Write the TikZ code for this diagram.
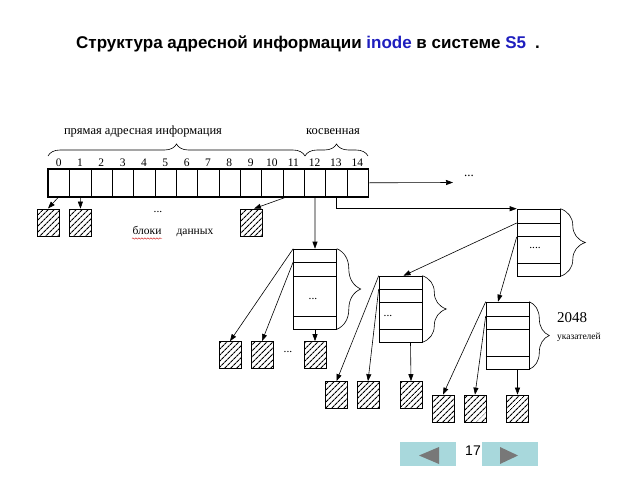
\documentclass[tikz,border=0pt]{standalone}
\usepackage{fontspec}
\setmainfont{Liberation Serif}
\newfontfamily\titlefont{Liberation Sans}
\usetikzlibrary{arrows.meta,decorations.pathreplacing,decorations.pathmorphing,patterns.meta,calc}
\definecolor{tblue}{RGB}{30,30,190}
\definecolor{btnfill}{RGB}{168,216,220}
\definecolor{btntri}{RGB}{120,120,120}
\tikzset{
  cell/.style={draw, line width=0.6pt, minimum width=21.333pt, minimum height=27pt, inner sep=0pt, anchor=north west},
  hatchbox/.style={draw, line width=0.7pt, minimum width=22pt, minimum height=27pt, inner sep=0pt,
     pattern={Lines[angle=45,distance=4pt,line width=1.1pt]}},
  ibox/.style={draw, line width=0.6pt, minimum width=43pt, inner sep=0pt},
  arr/.style={-{Triangle[length=7pt,width=5pt]}, line width=0.6pt},
  thin/.style={line width=0.6pt},
  lbl/.style={inner sep=0pt, font=\fontsize{11.5}{13}\selectfont},
  biglbl/.style={inner sep=0pt, font=\fontsize{12.5}{14}\selectfont},
  bracedeco/.style={decorate, line width=0.6pt, decoration={brace, amplitude=#1}},
  btn/.style={fill=btnfill, draw=none, minimum width=56pt, minimum height=24pt, inner sep=0pt},
}
\begin{document}
\begin{tikzpicture}[x=1pt, y=-1pt]
\useasboundingbox (0,0) rectangle (640,480);

% title
\node[inner sep=0pt, anchor=west, font=\titlefont\bfseries\fontsize{17}{20}\selectfont] (title) at (76,44)
  {Структура адресной информации \textcolor{tblue}{inode} в системе \textcolor{tblue}{S5}\hspace{9pt}.};

% main array
\foreach \i in {0,...,14} {
  \node[cell] (c\i) at ({48+\i*21.333},169) {};
  \node[lbl, anchor=base] (n\i) at ({48+(\i+0.5)*21.333},166) {\i};
}
\draw[line width=1.8pt] (c0.north west) rectangle (c14.south east);

% top braces
\draw[bracedeco=12pt] (48,156) -- (305,156);
\draw[bracedeco=12pt] (305,156) -- (368,156);
\node[biglbl, anchor=base] (lbdirect) at (143,134) {прямая адресная информация};
\node[biglbl, anchor=base] (lbind) at (333,134) {косвенная};

% arrow to the right
\coordinate (rt) at (453,182.5);
\draw[arr] (c14.east) -- (rt);
\node[inner sep=0pt, font=\fontsize{13}{14}\selectfont] (rdots) at (469,176) {...};

% first-level data blocks
\node[hatchbox] (d0) at (48,222.5) {};
\node[hatchbox] (d1) at (80.5,222.5) {};
\node[hatchbox] (d11) at (251,222.5) {};
\draw[arr] (c0.south) -- (d0.north);
\draw[arr] (c1.south) -- (d1.north);
\draw[arr] ([xshift=-6pt]c11.south) -- ([xshift=3pt]d11.north);
\node[lbl] (ddots) at (158,212) {...};
\node[lbl, anchor=base] (bl) at (147,234) {блоки};
\node[lbl, anchor=base] (dn) at (195,234) {данных};
\draw[red!80!black, line width=0.4pt, decorate, decoration={snake, amplitude=0.7pt, segment length=3pt}] (132,238.5) -- (162,238.5);

% single indirect box
\node[ibox, minimum height=80pt] (S) at (315,289) {};
\foreach \yy in {262,276,316} \draw[thin] (S.west |- 0,\yy) -- (S.east |- 0,\yy);
\node[lbl] (sdots) at (313,299) {...};
\draw[bracedeco=24pt] (S.north east) -- (S.south east);
\draw[arr] (c12.south) -- (S.north);

\node[hatchbox] (s1) at (230,355) {};
\node[hatchbox] (s2) at (262,355) {};
\node[hatchbox] (s3) at (315,355) {};
\draw[arr] (S.north west) -- (s1.north);
\draw[arr] (S.west |- 0,262) -- (s2.north);
\draw[arr] (S.south) -- (s3.north);
\node[lbl] (sbdots) at (288,352) {...};

% double indirect box
\node[ibox, minimum height=67pt] (D) at (538.5,242.5) {};
\foreach \yy in {223,236,263} \draw[thin] (D.west |- 0,\yy) -- (D.east |- 0,\yy);
\node[lbl] (ddots2) at (535,248) {....};
\draw[bracedeco=25pt] (D.north east) -- (D.south east);
\draw[arr] (c13.south) |- (D.north west);

% second-level boxes
\node[ibox, minimum height=66pt] (A) at (400.5,309) {};
\foreach \yy in {289,302,329} \draw[thin] (A.west |- 0,\yy) -- (A.east |- 0,\yy);
\node[lbl] (adots) at (388,316) {...};
\draw[bracedeco=24pt] (A.north east) -- (A.south east);
\draw[arr] (D.west |- 0,223) -- ([xshift=3pt]A.north);

\node[ibox, minimum height=67pt] (B) at (507.5,335.5) {};
\foreach \yy in {316,329,356} \draw[thin] (B.west |- 0,\yy) -- (B.east |- 0,\yy);
\draw[bracedeco=20pt] (B.north east) -- (B.south east);
\draw[arr] (D.west |- 0,237) -- ([xshift=-9.5pt]B.north);

\node[hatchbox] (a1) at (336.5,395) {};
\node[hatchbox] (a2) at (368,395) {};
\node[hatchbox] (a3) at (411,395) {};
\draw[arr] (A.north west) -- (a1.north);
\draw[arr] (A.west |- 0,289) -- (a2.north);
\draw[arr] ([xshift=10pt]A.south) -- (a3.north);

\node[hatchbox] (b1) at (443,408.5) {};
\node[hatchbox] (b2) at (475,408.5) {};
\node[hatchbox] (b3) at (517.5,408.5) {};
\draw[arr] (B.north west) -- (b1.north);
\draw[arr] (B.west |- 0,316) -- (b2.north);
\draw[arr] ([xshift=10pt]B.south) -- (b3.north);

\node[inner sep=0pt, anchor=west, font=\fontsize{15}{17}\selectfont] (n2048) at (557,318) {2048};
\node[inner sep=0pt, anchor=west, font=\fontsize{9.5}{11}\selectfont] (ukaz) at (557,337) {указателей};

% navigation
\node[btn] (bl1) at (428,454) {};
\node[btn] (br1) at (509.5,454) {};
\fill[btntri] (419,455.5) -- (439,447) -- (439,464) -- cycle;
\fill[btntri] (518,455.5) -- (500,447) -- (500,464) -- cycle;
\node[inner sep=0pt, font=\titlefont\fontsize{14}{16}\selectfont] (pg) at (473,451) {17};
\end{tikzpicture}
\end{document}
